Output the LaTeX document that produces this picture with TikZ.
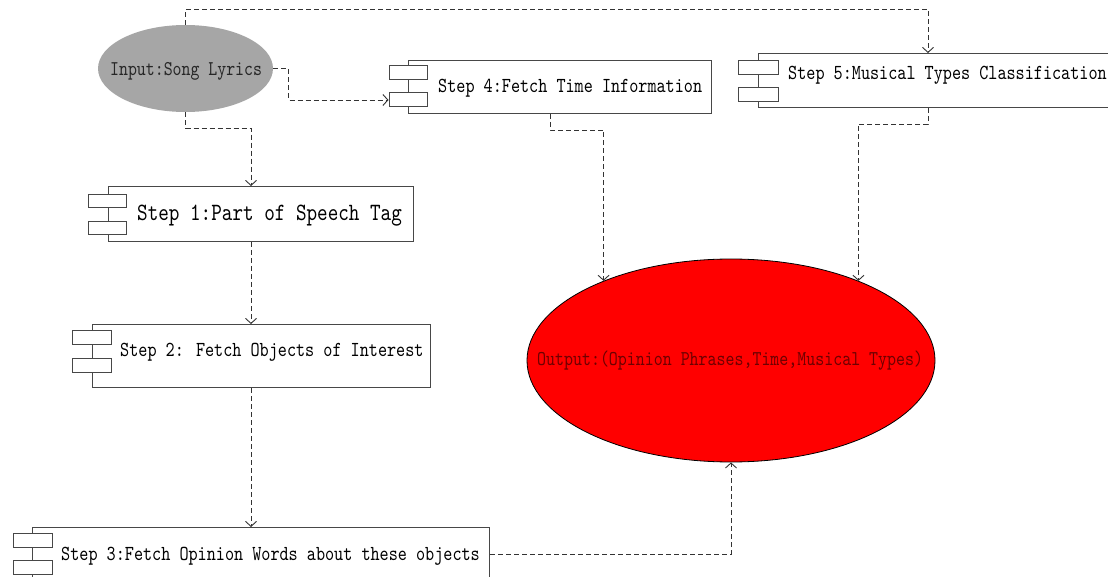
\documentclass[tikz,border=0pt]{standalone}
\usepackage{fontspec}
\usetikzlibrary{arrows.meta,calc,shapes.geometric}
\newfontfamily\diagfont{lmmono10-regular.otf}[FakeStretch=0.81]

\definecolor{boxgray}{HTML}{474747}
\definecolor{linegray}{HTML}{333333}
\definecolor{inputgray}{HTML}{A6A6A6}
\definecolor{outred}{HTML}{FF0000}
\definecolor{outtext}{HTML}{6E0000}

\tikzset{
  box/.style={draw=boxgray, line width=1pt, fill=white, inner sep=0pt},
  tab/.style={box, minimum width=38pt, minimum height=14pt},
  lbl/.style={inner sep=0pt, anchor=west, text height={0.61*#1pt}, text depth=0pt,
              font=\diagfont\fontsize{#1}{#1}\selectfont},
  lbl/.default=21.4,
  conn/.style={draw=linegray, line width=0.9pt, dash pattern=on 5pt off 3pt,
               -{Straight Barb[length=5pt,width=11pt]}},
}

\begin{document}
\begin{tikzpicture}[x=1pt,y=-1pt]
\useasboundingbox (0,0) rectangle (1108,577);
\clip (0,0) rectangle (1108,577);

% input and output
\node[ellipse, fill=inputgray, inner sep=0pt, minimum width=175pt, minimum height=87pt] (in) at (185.5,68.5) {};
\node[lbl=21.0, text=black!85] (inl) at (110,69) {Input:Song Lyrics};

\node[ellipse, draw=black, line width=0.8pt, fill=outred, inner sep=0pt, minimum width=408pt, minimum height=203pt] (out) at (731,360.5) {};
\node[lbl=21.1, text=outtext] (outl) at (537,359) {Output:(Opinion Phrases,Time,Musical Types)};

% step 1
\node[box, minimum width=305pt, minimum height=55pt, anchor=north west] (s1) at (108,186) {};
\node[tab, minimum height=13pt] (s1a) at (107,201) {};
\node[tab, minimum height=13pt] (s1b) at (107,228) {};
\node[lbl=24.9] (s1l) at (137,212.5) {Step 1:Part of Speech Tag};

% step 2
\node[box, minimum width=338pt, minimum height=63pt, anchor=north west] (s2) at (92,324) {};
\node[tab, minimum width=39pt] (s2a) at (91.5,337.5) {};
\node[tab, minimum width=39pt] (s2b) at (91.5,365) {};
\node[lbl] (s2l) at (120,350) {Step 2: Fetch Objects of Interest};

% step 3
\node[box, minimum width=457pt, minimum height=80pt, anchor=north west] (s3) at (32,527) {};
\node[tab, minimum width=39pt] (s3a) at (32.5,540) {};
\node[tab, minimum width=39pt] (s3b) at (32.5,567) {};
\node[lbl] (s3l) at (61,553.5) {Step 3:Fetch Opinion Words about these objects};

% step 4
\node[box, minimum width=303pt, minimum height=53pt, anchor=north west] (s4) at (408,60) {};
\node[tab] (s4a) at (408,73) {};
\node[tab] (s4b) at (408,100) {};
\node[lbl] (s4l) at (438,85.5) {Step 4:Fetch Time Information};

% step 5
\node[box, minimum width=360pt, minimum height=54pt, anchor=north west] (s5) at (758,53) {};
\node[tab, minimum width=40pt] (s5a) at (758,68) {};
\node[tab, minimum width=40pt] (s5b) at (758,95) {};
\node[lbl] (s5l) at (788,73) {Step 5:Musical Types Classification};

% connectors
\draw[conn] (in.north) -- ++(0,-15.5) -| ([xshift=170pt]s5.north west);
\draw[conn] (in.east) -- ++(15,0) |- (s4b.west);
\draw[conn] (in.south) -- ++(0,16) -| ([xshift=143pt]s1.north west);
\draw[conn] ([xshift=143pt]s1.south west) -- ([xshift=159pt]s2.north west);
\draw[conn] ([xshift=159pt]s2.south west) -- ([xshift=219pt]s3.north west);
\draw[conn] ([yshift=-27pt]s3.north east) -| (out.south);
\draw[conn] ([xshift=142pt]s4.south west) -- ++(0,16) -| (out.148);
\draw[conn] ([xshift=170pt]s5.south west) -- ++(0,16) -| (out.32);
\end{tikzpicture}
\end{document}
